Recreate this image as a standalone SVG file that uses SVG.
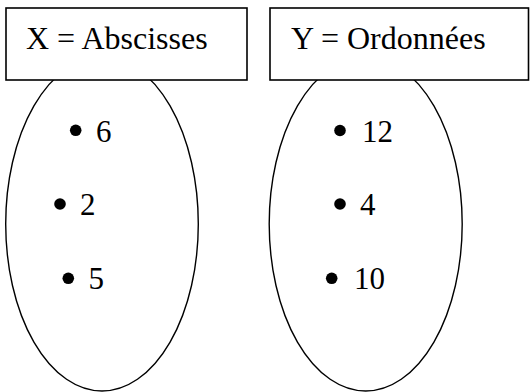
<svg xmlns="http://www.w3.org/2000/svg" width="530" height="392" viewBox="0 0 530 392">
<style>
.set{fill:none;stroke:#000;stroke-width:1.4}
.box{fill:#fff;stroke:#000;stroke-width:1.6}
.t{font-family:"Liberation Serif","Times New Roman",serif;font-size:32px;fill:#000}
.n{font-family:"Liberation Serif","Times New Roman",serif;font-size:31px;fill:#000}
.dot{fill:#000}
</style>
<rect width="530" height="392" fill="#fff"/>
<g id="setX">
<ellipse class="set" cx="102" cy="224" rx="96.3" ry="167"/>
<rect class="box" x="6" y="8" width="241" height="72"/>
<text class="t" x="26" y="48.5">X = Abscisses</text>
<circle class="dot" cx="75.7" cy="130.3" r="5.8"/>
<text class="n" x="96" y="141.5">6</text>
<circle class="dot" cx="60" cy="204" r="5.8"/>
<text class="n" x="80" y="215">2</text>
<circle class="dot" cx="68.3" cy="278.3" r="5.8"/>
<text class="n" x="88.5" y="289.3">5</text>
</g>
<g id="setY">
<ellipse class="set" cx="365.7" cy="224" rx="96.5" ry="167"/>
<rect class="box" x="270" y="8" width="258.5" height="72"/>
<text class="t" x="291" y="48.5">Y = Ordonnées</text>
<circle class="dot" cx="340" cy="130.5" r="5.8"/>
<text class="n" x="362" y="141.5">12</text>
<circle class="dot" cx="340" cy="204" r="5.8"/>
<text class="n" x="360" y="215">4</text>
<circle class="dot" cx="331.7" cy="278.3" r="5.8"/>
<text class="n" x="354" y="289.3">10</text>
</g>
</svg>
